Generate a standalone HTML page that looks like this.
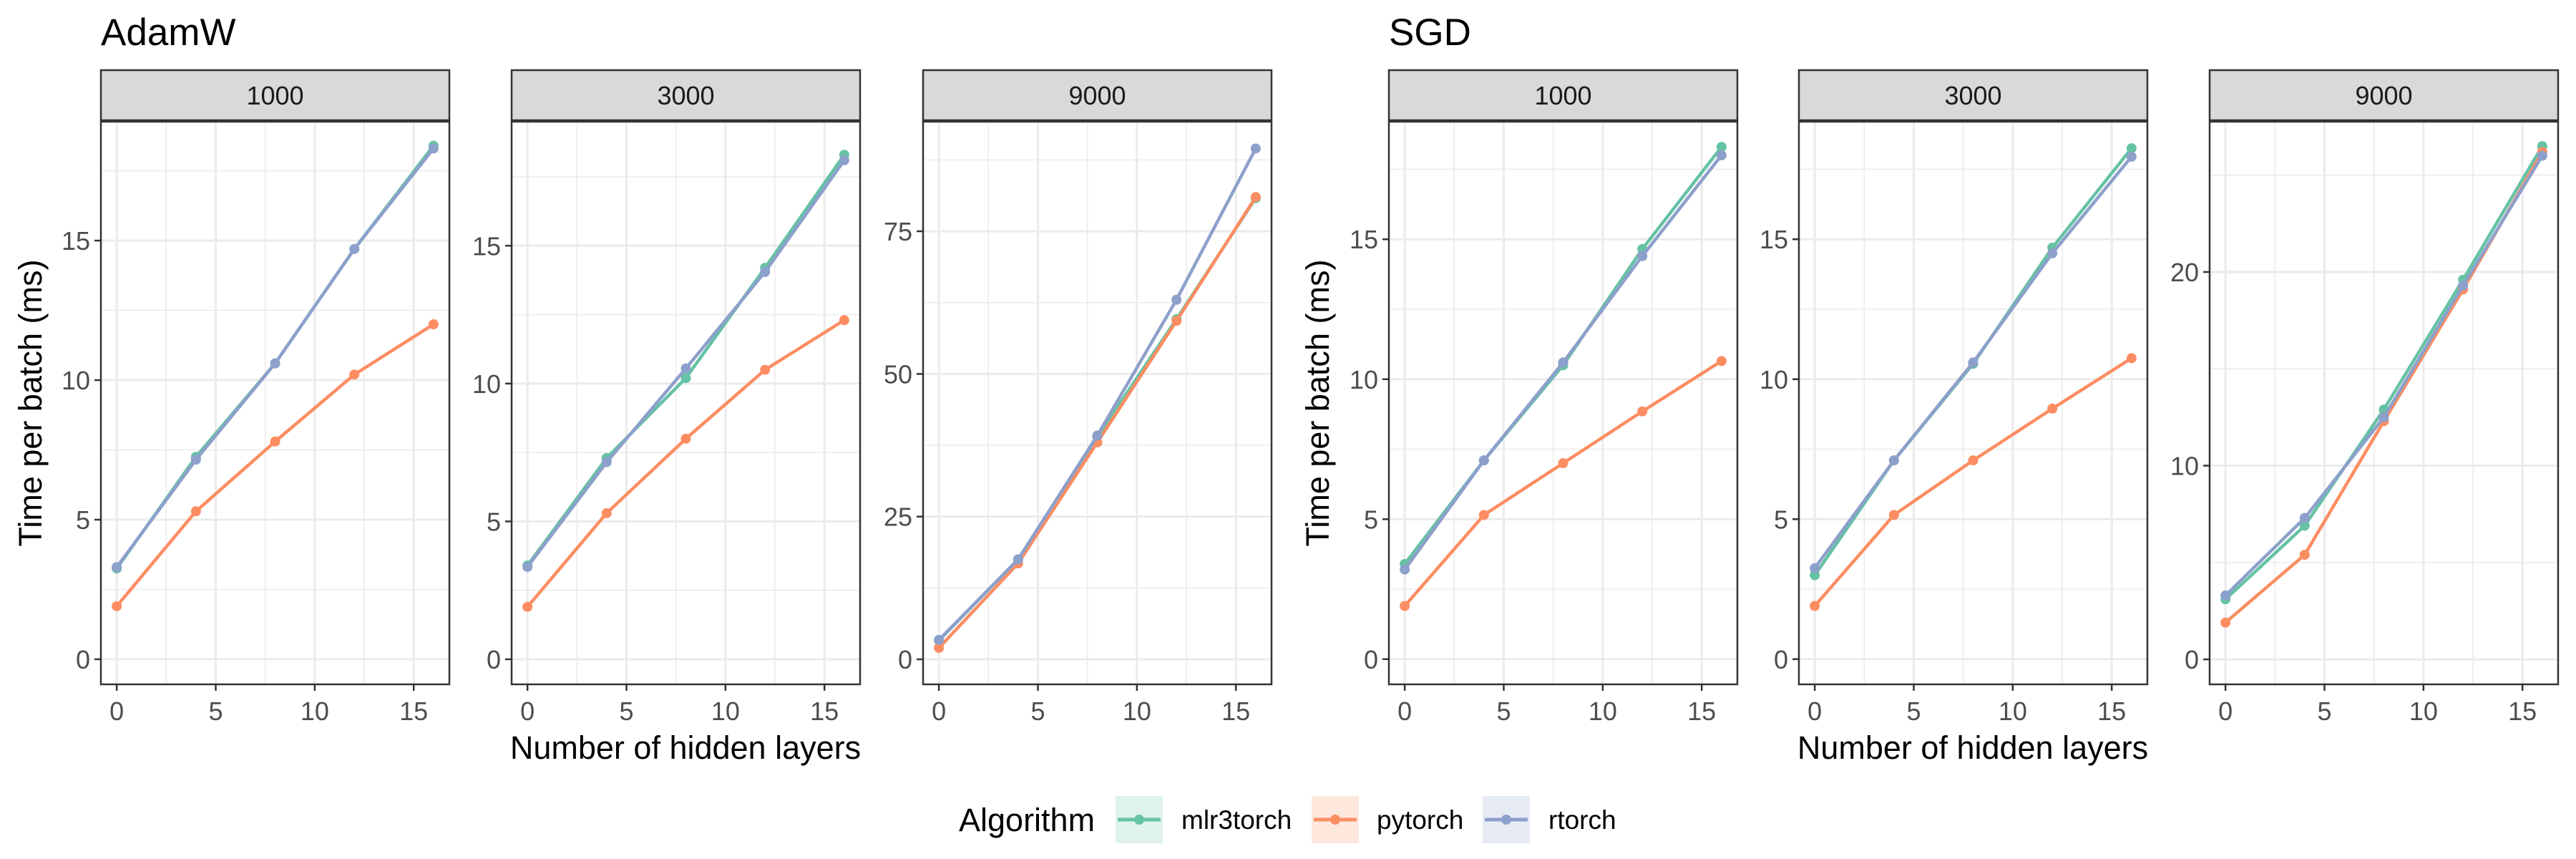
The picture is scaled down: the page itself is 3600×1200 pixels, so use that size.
<!DOCTYPE html>
<html><head><meta charset="utf-8"><style>
html,body{margin:0;padding:0;background:#fff;}
svg{display:block;font-family:"Liberation Sans",sans-serif;}
</style></head><body>
<svg id="chart" width="3600" height="1200" viewBox="0 0 3600 1200" xmlns="http://www.w3.org/2000/svg">
<rect x="0" y="0" width="3600" height="1200" fill="#fff"/>
<text x="141" y="63" font-size="53" fill="#000">AdamW</text>
<text x="1941" y="63" font-size="53" fill="#000">SGD</text>
<text transform="translate(58,563) rotate(-90)" text-anchor="middle" font-size="45" fill="#000">Time per batch (ms)</text>
<text transform="translate(1857,563) rotate(-90)" text-anchor="middle" font-size="45" fill="#000">Time per batch (ms)</text>
<text x="958" y="1060" text-anchor="middle" font-size="45" fill="#000">Number of hidden layers</text>
<text x="2757" y="1060" text-anchor="middle" font-size="45" fill="#000">Number of hidden layers</text>
<g id="legend">
<text x="1340" y="1161" font-size="45" fill="#000">Algorithm</text>
<g>
<rect x="1559" y="1112" width="66" height="66" fill="#DFF2EC"/>
<line x1="1562" y1="1145" x2="1622" y2="1145" stroke="#66C2A5" stroke-width="5"/>
<circle cx="1592" cy="1145" r="7" fill="#66C2A5"/>
<text x="1651" y="1158" font-size="37" fill="#000">mlr3torch</text></g>
<g>
<rect x="1833" y="1112" width="66" height="66" fill="#FEE7DD"/>
<line x1="1836" y1="1145" x2="1896" y2="1145" stroke="#FC8D62" stroke-width="5"/>
<circle cx="1866" cy="1145" r="7" fill="#FC8D62"/>
<text x="1924" y="1158" font-size="37" fill="#000">pytorch</text></g>
<g>
<rect x="2072" y="1112" width="66" height="66" fill="#E6EAF3"/>
<line x1="2075" y1="1145" x2="2135" y2="1145" stroke="#8DA0CB" stroke-width="5"/>
<circle cx="2105" cy="1145" r="7" fill="#8DA0CB"/>
<text x="2164" y="1158" font-size="37" fill="#000">rtorch</text></g>
</g>
</svg>
<script>
const layers = [0, 4, 8, 12, 16];
const xTicks = [0, 5, 10, 15];
const xMinor = [2.5, 7.5, 12.5];
const seriesNames = ["mlr3torch", "pytorch", "rtorch"];
const adamw1000_mlr3torch = [3.25, 7.25, 10.6, 14.7, 18.4];
const adamw1000_pytorch = [1.9, 5.3, 7.8, 10.2, 12.0];
const adamw1000_rtorch = [3.3, 7.15, 10.6, 14.7, 18.3];
const adamw3000_mlr3torch = [3.4, 7.3, 10.2, 14.2, 18.3];
const adamw3000_pytorch = [1.9, 5.3, 8.0, 10.5, 12.3];
const adamw3000_rtorch = [3.35, 7.15, 10.55, 14.05, 18.1];
const adamw9000_mlr3torch = [3.3, 17.5, 39.0, 59.6, 80.8];
const adamw9000_pytorch = [2.0, 16.8, 38.0, 59.3, 81.0];
const adamw9000_rtorch = [3.4, 17.5, 39.2, 63.0, 89.5];
const sgd1000_mlr3torch = [3.4, 7.1, 10.5, 14.65, 18.3];
const sgd1000_pytorch = [1.9, 5.15, 7.0, 8.85, 10.65];
const sgd1000_rtorch = [3.2, 7.1, 10.6, 14.4, 18.0];
const sgd3000_mlr3torch = [3.0, 7.1, 10.55, 14.7, 18.25];
const sgd3000_pytorch = [1.9, 5.15, 7.1, 8.95, 10.75];
const sgd3000_rtorch = [3.25, 7.1, 10.6, 14.5, 17.95];
const sgd9000_mlr3torch = [3.1, 6.9, 12.9, 19.6, 26.5];
const sgd9000_pytorch = [1.9, 5.4, 12.3, 19.1, 26.2];
const sgd9000_rtorch = [3.3, 7.3, 12.5, 19.3, 26.0];
const yTicksSmall = [0, 5, 10, 15];
const yMinorSmall = [2.5, 7.5, 12.5, 17.5];
const yTicksBig = [0, 25, 50, 75];
const yMinorBig = [12.5, 37.5, 62.5, 87.5];
const yTicksSgd9000 = [0, 10, 20];
const yMinorSgd9000 = [5, 15, 25];
const stripLabels = ["1000", "3000", "9000", "1000", "3000", "9000"];

const colors = {mlr3torch:"#66C2A5", pytorch:"#FC8D62", rtorch:"#8DA0CB"};
const NS = "http://www.w3.org/2000/svg";
const svg = document.getElementById("chart");
const PT = 170, PB = 956, PW = 487;
function mk(tag, attrs, parent){const e=document.createElementNS(NS,tag);for(const k in attrs)e.setAttribute(k,attrs[k]);(parent||svg).appendChild(e);return e;}

const panels = [
 {id:"adamw-1000", left:141, ymin:-0.9, ymax:19.26, ticks:yTicksSmall, minor:yMinorSmall, data:{mlr3torch:adamw1000_mlr3torch,pytorch:adamw1000_pytorch,rtorch:adamw1000_rtorch}},
 {id:"adamw-3000", left:715, ymin:-0.91, ymax:19.5, ticks:yTicksSmall, minor:yMinorSmall, data:{mlr3torch:adamw3000_mlr3torch,pytorch:adamw3000_pytorch,rtorch:adamw3000_rtorch}},
 {id:"adamw-9000", left:1290, ymin:-4.39, ymax:94.2, ticks:yTicksBig, minor:yMinorBig, data:{mlr3torch:adamw9000_mlr3torch,pytorch:adamw9000_pytorch,rtorch:adamw9000_rtorch}},
 {id:"sgd-1000", left:1941, ymin:-0.9, ymax:19.2, ticks:yTicksSmall, minor:yMinorSmall, data:{mlr3torch:sgd1000_mlr3torch,pytorch:sgd1000_pytorch,rtorch:sgd1000_rtorch}},
 {id:"sgd-3000", left:2514, ymin:-0.9, ymax:19.2, ticks:yTicksSmall, minor:yMinorSmall, data:{mlr3torch:sgd3000_mlr3torch,pytorch:sgd3000_pytorch,rtorch:sgd3000_rtorch}},
 {id:"sgd-9000", left:3088, ymin:-1.29, ymax:27.76, ticks:yTicksSgd9000, minor:yMinorSgd9000, data:{mlr3torch:sgd9000_mlr3torch,pytorch:sgd9000_pytorch,rtorch:sgd9000_rtorch}}
];

panels.forEach((p, i) => {
  const g = mk("g", {});
  
  
  const xs = v => p.left + (v + 0.8) / 17.6 * PW;
  const ys = v => PB - (v - p.ymin) / (p.ymax - p.ymin) * (PB - PT);
  mk("rect", {x:p.left, y:PT, width:PW, height:PB-PT, fill:"#fff"}, g);
  xMinor.forEach(v => mk("line", {x1:xs(v), x2:xs(v), y1:PT, y2:PB, stroke:"#EBEBEB", "stroke-width":1.5}, g));
  p.minor.forEach(v => mk("line", {x1:p.left, x2:p.left+PW, y1:ys(v), y2:ys(v), stroke:"#EBEBEB", "stroke-width":1.5}, g));
  xTicks.forEach(v => mk("line", {x1:xs(v), x2:xs(v), y1:PT, y2:PB, stroke:"#EBEBEB", "stroke-width":3}, g));
  p.ticks.forEach(v => mk("line", {x1:p.left, x2:p.left+PW, y1:ys(v), y2:ys(v), stroke:"#EBEBEB", "stroke-width":3}, g));
  seriesNames.forEach(s => {
    const vals = p.data[s];
    const sg = mk("g", {}, g);
    
    
    mk("polyline", {points: layers.map((x,k)=>xs(x)+","+ys(vals[k])).join(" "), fill:"none", stroke:colors[s], "stroke-width":4.5, "stroke-linejoin":"round"}, sg);
    layers.forEach((x,k) => {
      const c = mk("circle", {cx:xs(x), cy:ys(vals[k]), r:7, fill:colors[s]}, sg);
      
      
    });
  });
  mk("rect", {x:p.left, y:PT, width:PW, height:PB-PT, fill:"none", stroke:"#333", "stroke-width":2.5}, g);
  // strip
  const st = mk("rect", {x:p.left, y:98, width:PW, height:70, fill:"#D9D9D9", stroke:"#333", "stroke-width":2.5}, g);
  
  
  const stt = mk("text", {x:p.left+PW/2, y:146, "text-anchor":"middle", "font-size":36, fill:"#1A1A1A"}, g);
  stt.textContent = stripLabels[i];
  
  
  // x ticks
  xTicks.forEach(v => {
    mk("line", {x1:xs(v), x2:xs(v), y1:PB, y2:PB+9, stroke:"#333", "stroke-width":2.5}, g);
    const t = mk("text", {x:xs(v), y:1006, "text-anchor":"middle", "font-size":36, fill:"#4D4D4D"}, g);
    t.textContent = v;
    
    
  });
  p.ticks.forEach(v => {
    mk("line", {x1:p.left-9, x2:p.left, y1:ys(v), y2:ys(v), stroke:"#333", "stroke-width":2.5}, g);
    const t = mk("text", {x:p.left-15, y:ys(v)+13, "text-anchor":"end", "font-size":36, fill:"#4D4D4D"}, g);
    t.textContent = v;
    
    
  });
});
</script>
</body></html>
